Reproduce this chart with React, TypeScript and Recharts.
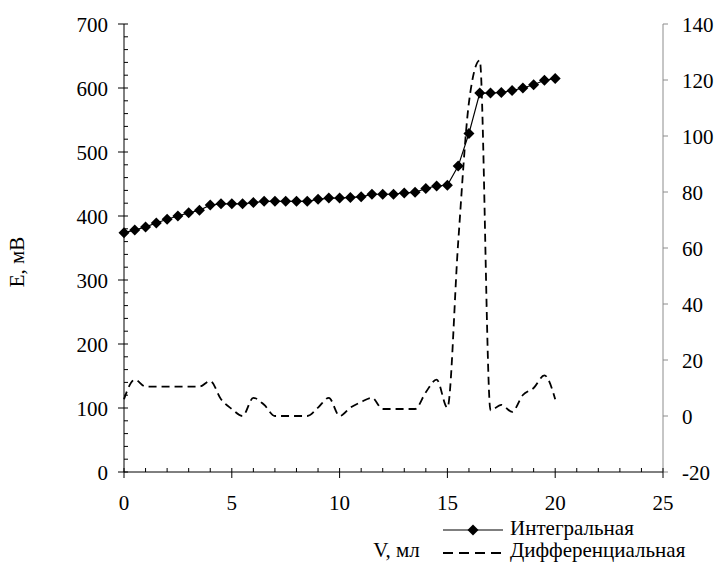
import { LineChart, Line, XAxis, YAxis } from 'recharts'

const FONT = "'Liberation Serif', Tinos, 'Times New Roman', 'DejaVu Serif', serif"
const txt = { fontFamily: FONT, fontSize: 21 }

// V, мл
const volume = [
  0, 0.5, 1, 1.5, 2, 2.5, 3, 3.5, 4, 4.5, 5, 5.5, 6, 6.5, 7, 7.5, 8, 8.5, 9, 9.5, 10,
  10.5, 11, 11.5, 12, 12.5, 13, 13.5, 14, 14.5, 15, 15.5, 16, 16.5, 17, 17.5, 18, 18.5, 19, 19.5, 20,
]
// Интегральная, E мВ
const potential = [
  374, 378, 383, 389, 395, 400, 405, 409, 417, 419, 419, 419, 421, 423, 423, 423, 423, 423, 426, 428, 428,
  429, 430, 434, 434, 434, 436, 437, 443, 447, 448, 478, 529, 592, 592, 593, 596, 600, 605, 612, 615,
]
// Дифференциальная (правая ось)
const derivative = [
  6, 13, 10.5, 10.5, 10.5, 10.5, 10.5, 10.5, 12.5, 6, 2.5, 0, 6.5, 4, 0, 0, 0, 0, 3, 6.5, 0,
  3, 5, 6.5, 2.5, 2.5, 2.5, 2.5, 8.5, 13, 3, 62, 112, 127, 2, 4, 1.5, 7.5, 10, 14.5, 6,
]

const xTicks = [0, 1, 2, 3, 4, 5, 6, 7, 8, 9, 10, 11, 12, 13, 14, 15, 16, 17, 18, 19, 20, 21, 22, 23, 24, 25]
const leftTicks = [
  0, 20, 40, 60, 80, 100, 120, 140, 160, 180, 200, 220, 240, 260, 280, 300, 320, 340,
  360, 380, 400, 420, 440, 460, 480, 500, 520, 540, 560, 580, 600, 620, 640, 660, 680, 700,
]
const rightTicks = [-20, 0, 20, 40, 60, 80, 100, 120, 140]

const data = volume.map((v, i) => ({ v, e: potential[i], d: derivative[i] }))

const XTick = ({ x, y, payload }: any) => {
  const major = payload.value % 5 === 0
  return (
    <g>
      <line x1={x} x2={x} y1={y - 4} y2={major ? y + 6 : y} stroke="#000" />
      {major && (
        <text x={x} y={y + 38} textAnchor="middle" fill="#000" style={txt}>
          {payload.value}
        </text>
      )}
    </g>
  )
}

const LeftTick = ({ x, y, payload }: any) => {
  const major = payload.value % 100 === 0
  return (
    <g>
      <line x1={major ? x - 6 : x} x2={x + 4} y1={y} y2={y} stroke="#000" />
      {major && (
        <text x={x - 16} y={y + 7.5} textAnchor="end" fill="#000" style={txt}>
          {payload.value}
        </text>
      )}
    </g>
  )
}

const RightTick = ({ x, y, payload }: any) => (
  <text x={x} y={y + 7.5} textAnchor="start" fill="#000" style={txt}>
    {payload.value}
  </text>
)

const YLabel = ({ viewBox }: any) => (
  <text
    transform={`translate(${viewBox.x + 24}, ${viewBox.y + viewBox.height / 2 + 14}) rotate(-90)`}
    textAnchor="middle"
    fill="#000"
    style={txt}
  >
    E, мВ
  </text>
)

const XLabel = ({ viewBox }: any) => (
  <text x={viewBox.x + viewBox.width / 2 + 3} y={viewBox.y + viewBox.height - 5} textAnchor="middle" fill="#000" style={txt}>
    V, мл
  </text>
)

const Diamond = (p: any) => {
  const { cx, cy, index } = p
  if (cx == null || cy == null) return <g key={index} />
  const r = 5.5
  return <path key={index} d={`M${cx},${cy - r}L${cx + r},${cy}L${cx},${cy + r}L${cx - r},${cy}Z`} fill="#000" />
}

export default function App() {
  return (
    <div style={{ position: 'relative', width: 717, height: 562, background: '#fff', fontFamily: FONT }}>
      <style>{'body{margin:0}'}</style>
      <LineChart width={717} height={562} data={data} margin={{ top: 24, right: 0, bottom: 0, left: 0 }}>
        <XAxis
          dataKey="v"
          type="number"
          domain={[0, 25]}
          ticks={xTicks}
          interval={0}
          height={90}
          tickSize={0}
          tickMargin={0}
          tickLine={false}
          axisLine={{ stroke: '#000' }}
          tick={<XTick />}
          label={<XLabel />}
        />
        <YAxis
          yAxisId="left"
          domain={[0, 700]}
          ticks={leftTicks}
          interval={0}
          width={124}
          tickSize={0}
          tickMargin={0}
          tickLine={false}
          axisLine={{ stroke: '#000' }}
          tick={<LeftTick />}
          label={<YLabel />}
        />
        <YAxis
          yAxisId="right"
          orientation="right"
          domain={[-20, 140]}
          ticks={rightTicks}
          interval={0}
          width={54}
          tickSize={5}
          tickMargin={14}
          axisLine={{ stroke: '#8c8c8c' }}
          tickLine={{ stroke: '#8c8c8c' }}
          tick={<RightTick />}
        />
        <Line
          yAxisId="right"
          dataKey="d"
          type="monotone"
          stroke="#000"
          strokeWidth={1.8}
          strokeDasharray="8 5"
          dot={false}
          activeDot={false}
          isAnimationActive={false}
        />
        <Line
          yAxisId="left"
          dataKey="e"
          type="linear"
          stroke="#000"
          strokeWidth={1.2}
          dot={Diamond}
          activeDot={false}
          isAnimationActive={false}
        />
      </LineChart>
      <svg width={717} height={562} style={{ position: 'absolute', left: 0, top: 0, pointerEvents: 'none' }}>
        <line x1={443} x2={503} y1={530} y2={530} stroke="#000" strokeWidth={1.2} />
        <path d="M473,524.5L478.5,530L473,535.5L467.5,530Z" fill="#000" />
        <text x={510} y={535} fill="#000" style={txt}>Интегральная</text>
        <line x1={443} x2={503} y1={553} y2={553} stroke="#000" strokeWidth={1.8} strokeDasharray="10 6" />
        <text x={510} y={557} fill="#000" style={txt}>Дифференциальная</text>
      </svg>
    </div>
  )
}
